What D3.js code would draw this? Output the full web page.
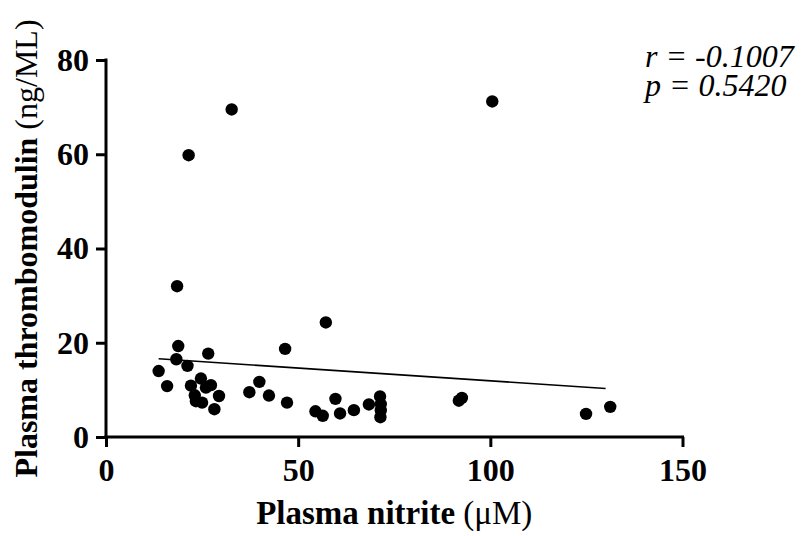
<!DOCTYPE html>
<html>
<head>
<meta charset="utf-8">
<script src="https://cdn.jsdelivr.net/npm/d3@7"></script>
<style>
  html, body { margin: 0; padding: 0; background: #fff; }
  svg { display: block; }
  text { font-family: "Liberation Serif", "Times New Roman", serif; fill: #000; }
</style>
</head>
<body>
<svg id="chart" width="804" height="536"></svg>
<script>
// Data
const nitrite = [18.5, 18.8, 18.3, 26.6, 21.2, 13.7, 15.9, 22.1, 24.7, 27.3,
                 26.0, 23.1, 23.4, 25.0, 29.4, 28.2, 37.3, 39.9, 42.4, 46.6,
                 47.1, 57.2, 54.5, 56.4, 59.7, 60.9, 64.5, 68.4, 71.3, 71.5,
                 71.5, 71.4, 91.8, 92.6, 124.9, 131.2, 21.5, 32.7, 100.5];
const thrombomodulin = [32.0, 19.3, 16.5, 17.7, 15.1, 14.0, 10.8, 10.9, 12.4, 11.0,
                        10.5, 8.85, 7.6, 7.3, 8.7, 5.9, 9.5, 11.7, 8.8, 18.7,
                        7.3, 24.3, 5.45, 4.5, 8.1, 5.0, 5.7, 6.9, 8.6, 7.0,
                        5.7, 4.2, 7.7, 8.3, 4.9, 6.4, 59.8, 69.5, 71.2];
const fitX = [13.7, 130];
const fitY = [16.6, 10.3];
const xTicks = [0, 50, 100, 150];
const yTicks = [0, 20, 40, 60, 80];
const statsLines = ["r = -0.1007", "p = 0.5420"];

const svg = d3.select("#chart");
const x = d3.scaleLinear().domain([0, 150]).range([106, 682.5]);
const y = d3.scaleLinear().domain([0, 80]).range([437, 60]);

// X axis
const gx = svg.append("g").attr("transform", `translate(0,${y(0)})`)
  .call(d3.axisBottom(x).tickValues(xTicks).tickSizeInner(10).tickSizeOuter(0).tickPadding(11));
// Y axis
const gy = svg.append("g").attr("transform", `translate(${x(0)},0)`)
  .call(d3.axisLeft(y).tickValues(yTicks).tickSizeInner(10).tickSizeOuter(0).tickPadding(7));

[gx, gy].forEach(g => {
  g.select(".domain").attr("stroke", "#000").attr("stroke-width", 3);
  g.selectAll(".tick line").attr("stroke", "#000").attr("stroke-width", 3);
  g.selectAll(".tick text")
    .attr("font-family", "'Liberation Serif', 'Times New Roman', serif")
    .attr("font-size", 32).attr("font-weight", "bold").attr("fill", "#000");
});
gx.select(".domain").attr("d", `M${x(0) - 1.5},0H${x(150) + 1.5}`);
gy.select(".domain").attr("d", `M0,${y(0) + 1.5}V${y(80) - 1.5}`);

// Regression line
svg.append("line")
  .attr("x1", x(fitX[0])).attr("y1", y(fitY[0]))
  .attr("x2", x(fitX[1])).attr("y2", y(fitY[1]))
  .attr("stroke", "#000").attr("stroke-width", 1.6);

// Points
svg.append("g").selectAll("circle")
  .data(nitrite.map((v, i) => [v, thrombomodulin[i]]))
  .join("circle")
  .attr("cx", d => x(d[0])).attr("cy", d => y(d[1]))
  .attr("r", 6.2).attr("fill", "#000");

// Stats
svg.append("g").selectAll("text")
  .data(statsLines).join("text")
  .attr("x", 645).attr("y", (d, i) => 67 + i * 29)
  .attr("font-size", 32).attr("font-style", "italic")
  .text(d => d);

// X label
const xl = svg.append("text")
  .attr("x", (x(0) + x(150)) / 2).attr("y", 524)
  .attr("text-anchor", "middle").attr("font-size", 33);
xl.append("tspan").attr("font-weight", "bold").text("Plasma nitrite ");
xl.append("tspan").text("(\u03bcM)");

// Y label
const yl = svg.append("text")
  .attr("transform", `translate(37,${(y(0) + y(80)) / 2}) rotate(-90)`)
  .attr("text-anchor", "middle").attr("font-size", 32);
yl.append("tspan").attr("font-weight", "bold").text("Plasma thrombomodulin ");
yl.append("tspan").text("(ng/ML)");
</script>
</body>
</html>
